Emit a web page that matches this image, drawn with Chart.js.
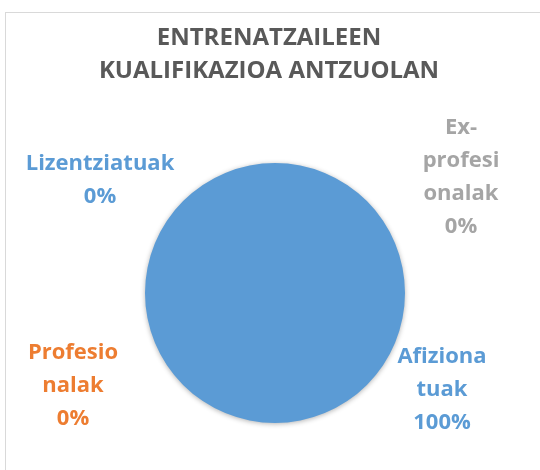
<!DOCTYPE html>
<html>
<head>
<meta charset="utf-8">
<script src="https://cdn.jsdelivr.net/npm/chart.js@4"></script>
<style>
  html, body { margin: 0; padding: 0; background: #fff; }
  body { width: 540px; height: 470px; overflow: hidden; position: relative; }
  .frame { position: absolute; left: 5px; top: 12px; width: 560px; height: 480px; border: 1px solid #d9d9d9; box-sizing: border-box; }
  canvas { position: absolute; left: 0; top: 0; }
</style>
</head>
<body>
<div class="frame"></div>
<canvas id="chart" width="540" height="470"></canvas>
<script>
const titleLines = ["ENTRENATZAILEEN", "KUALIFIKAZIOA ANTZUOLAN"];
const categories = ["Afizionatuak", "Profesionalak", "Ex-profesionalak", "Lizentziatuak"];
const wrappedLabels = [["Afiziona", "tuak"], ["Profesio", "nalak"], ["Ex-", "profesi", "onalak"], ["Lizentziatuak"]];
const values = [100, 0, 0, 0];
const sliceColors = ["#5B9BD5", "#ED7D31", "#A5A5A5", "#FFC000"];
const labelColors = ["#5B9BD5", "#ED7D31", "#A5A5A5", "#5B9BD5"];
// where each data label sits, relative to the pie centre (Excel "best fit")
const labelOffsets = [[167, 97], [-202, 93], [186, -116], [-175, -113]];

const labelFont = "bold 22px 'Open Sans'";
const titleFont = "bold 24px 'Open Sans'";
const lineStep = 33;

const pieShadow = {
  id: "pieShadow",
  beforeDatasetsDraw(chart) {
    const ctx = chart.ctx;
    ctx.save();
    ctx.shadowColor = "rgba(0,0,0,0.3)";
    ctx.shadowBlur = 5;
    ctx.shadowOffsetY = 1;
  },
  afterDatasetsDraw(chart) {
    chart.ctx.restore();
  },
};

const textLayer = {
  id: "textLayer",
  afterDraw(chart) {
    const ctx = chart.ctx;
    ctx.save();
    ctx.textAlign = "center";
    ctx.textBaseline = "alphabetic";
    ctx.font = titleFont;
    ctx.fillStyle = "#595959";
    titleLines.forEach((t, j) => ctx.fillText(t, 269, 45 + j * 33));

    const arc = chart.getDatasetMeta(0).data[0];
    const total = values.reduce((a, b) => a + b, 0);
    ctx.font = labelFont;
    ctx.textBaseline = "middle";
    values.forEach((v, i) => {
      const lines = wrappedLabels[i].concat([Math.round((v / total) * 100) + "%"]);
      const cx = arc.x + labelOffsets[i][0];
      const cy = arc.y + labelOffsets[i][1];
      const top = cy - ((lines.length - 1) * lineStep) / 2;
      ctx.fillStyle = labelColors[i];
      lines.forEach((t, j) => ctx.fillText(t, cx, top + j * lineStep));
    });
    ctx.restore();
  },
};

new Chart(document.getElementById("chart"), {
  type: "pie",
  data: {
    labels: categories,
    datasets: [
      {
        data: values,
        backgroundColor: sliceColors,
        borderWidth: 0,
      },
    ],
  },
  options: {
    responsive: false,
    animation: false,
    layout: { padding: { left: 145, right: 135, top: 163, bottom: 47 } },
    plugins: {
      legend: { display: false },
      tooltip: { enabled: false },
      title: { display: false },
    },
  },
  plugins: [pieShadow, textLayer],
});
</script>
</body>
</html>
